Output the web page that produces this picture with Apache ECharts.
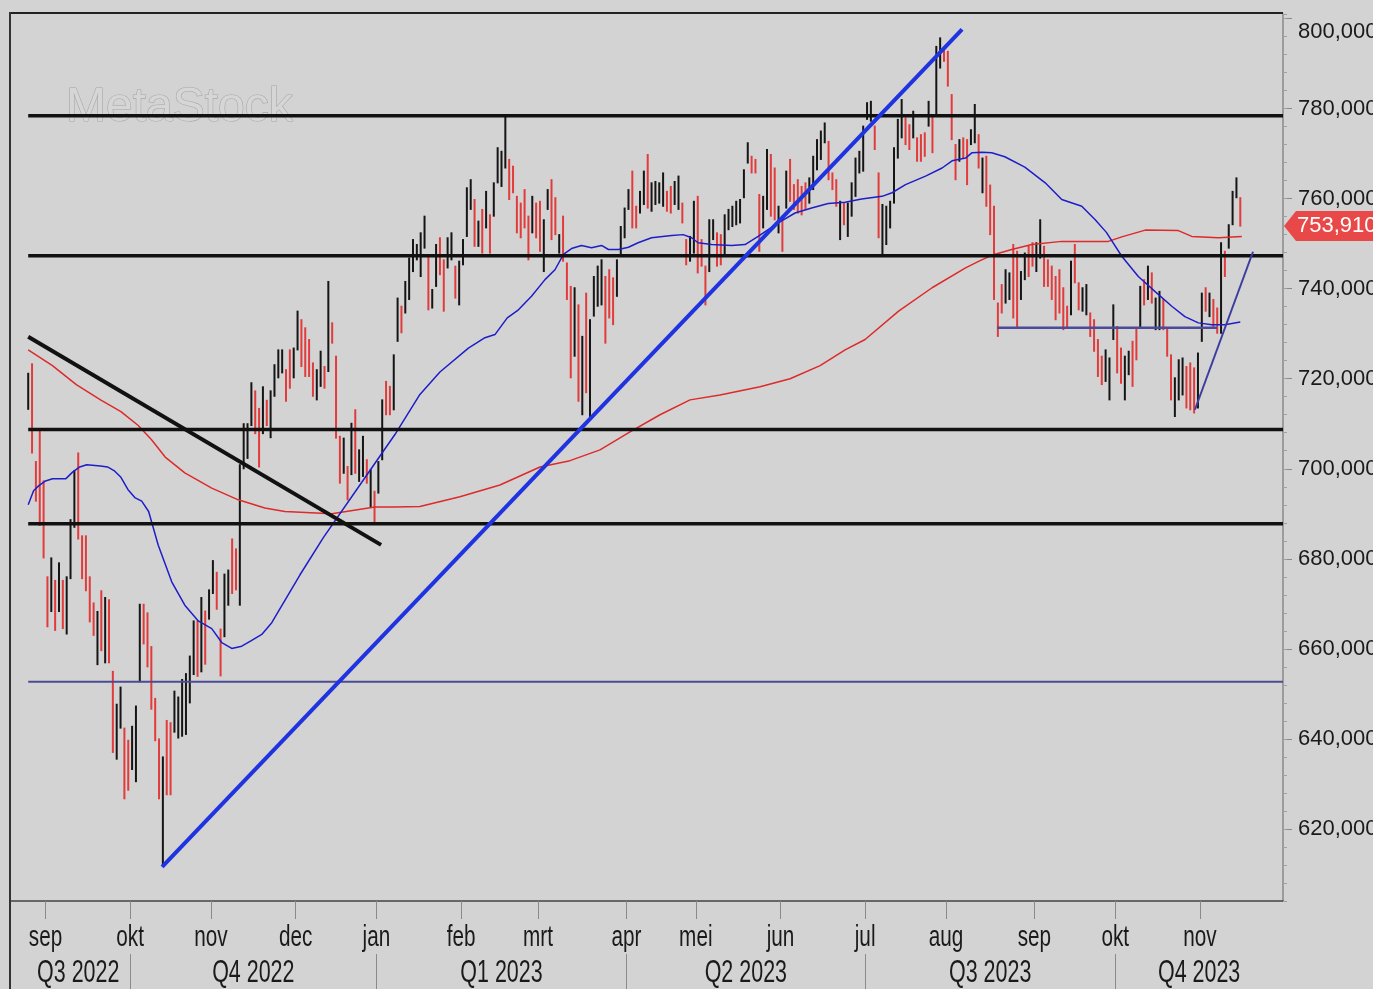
<!DOCTYPE html>
<html><head><meta charset="utf-8">
<script src="https://cdn.jsdelivr.net/npm/echarts@6/dist/echarts.min.js"></script>
<style>html,body{margin:0;padding:0;background:#d3d3d3;overflow:hidden}#c{width:1373px;height:989px}</style>
</head><body><div id="c"></div>
<script>
// ---------- data ----------
const startDate = '2022-08-25';
const barCount = 316;
const holidays = ['2022-12-26', '2023-04-07', '2023-04-10', '2023-05-01'];
const monthNames = ['jan', 'feb', 'mrt', 'apr', 'mei', 'jun', 'jul', 'aug', 'sep', 'okt', 'nov', 'dec'];
const quarterLabels = ['Q3 2022', 'Q4 2022', 'Q1 2023', 'Q2 2023', 'Q3 2023', 'Q4 2023'];
const yTickValues = [620, 640, 660, 680, 700, 720, 740, 760, 780, 800];

const lows = [
713.2,703.5,692.8,687.4,680.2,664.9,668.3,664.1,668.3,664.5,
663.3,675.6,687.0,684.4,675.6,672.9,666.0,663.0,656.5,659.6,
656.9,656.9,637.0,635.5,642.4,626.7,628.6,633.2,630.5,652.7,
661.1,656.0,646.6,639.6,626.7,611.8,627.6,627.6,641.5,640.2,
640.6,641.0,648.0,654.3,653.9,654.9,656.6,666.6,672.3,668.8,
654.0,662.7,669.7,672.3,673.1,669.7,700.0,702.3,709.6,707.8,
700.4,707.8,709.6,706.9,716.1,720.2,721.3,715.0,717.9,720.2,
726.4,722.7,720.5,720.5,716.1,715.3,718.3,717.9,721.6,727.9,
706.8,696.8,699.0,693.1,698.7,699.0,697.2,698.3,696.8,691.6,
688.2,694.6,702.0,712.0,712.0,713.1,728.3,730.2,734.6,737.6,
743.8,746.4,742.7,749.0,735.3,735.7,740.5,743.1,735.0,744.6,
746.4,737.9,736.4,745.3,751.6,757.6,749.4,749.4,747.9,753.5,
747.9,756.1,763.5,762.7,766.8,759.8,761.3,752.4,751.3,753.5,
746.4,752.4,751.3,748.3,743.8,757.6,750.9,752.0,747.9,746.1,
737.6,720.2,725.0,715.0,712.0,716.9,711.6,733.9,736.1,736.4,
727.9,733.5,732.0,738.3,747.6,751.3,757.6,753.5,753.5,756.8,
758.7,757.9,757.2,758.7,759.0,758.3,757.2,756.8,758.7,757.6,
754.6,745.3,746.1,747.9,743.5,745.0,736.4,743.8,750.9,745.0,
745.3,747.2,753.1,753.8,754.2,754.6,760.2,767.9,765.7,765.7,
748.3,753.5,757.6,756.1,755.3,752.4,748.3,757.9,759.4,757.6,
756.8,756.4,757.6,759.0,762.0,766.4,768.7,772.4,764.2,762.0,
758.3,750.9,754.2,751.6,756.1,760.5,765.7,766.1,777.6,777.2,
770.9,751.3,747.6,749.8,753.5,759.0,769.0,773.5,772.0,770.9,
773.5,768.3,768.3,769.4,776.1,770.2,778.7,789.0,790.5,785.0,
773.1,764.2,768.3,769.0,763.1,772.0,772.4,766.8,761.3,758.3,
752.0,737.6,729.4,734.6,736.8,737.6,733.5,731.6,737.6,742.0,
742.7,745.0,743.8,746.8,740.5,740.5,737.6,733.1,734.6,730.9,
731.3,734.2,741.3,735.3,735.0,734.2,729.4,726.1,720.5,718.7,
719.4,715.3,728.7,721.3,719.0,715.3,720.9,718.3,724.2,731.3,
736.4,737.6,736.8,730.9,730.9,730.9,725.0,715.3,711.6,715.3,
716.4,713.5,713.1,712.4,713.5,728.3,735.0,733.8,731.6,730.1,
730.1,742.7,749.0,754.2,760.2,753.9];

const highs = [
721.2,723.3,701.6,708.8,697.3,676.0,680.2,675.2,679.1,675.2,
676.0,688.7,699.6,703.5,685.1,685.1,676.0,670.2,668.3,672.9,
671.4,670.9,655.0,647.7,651.5,642.4,639.7,642.8,647.3,669.9,
669.9,668.0,660.5,649.0,640.0,636.0,644.1,643.6,650.6,649.3,
653.2,654.5,658.4,666.2,666.2,671.4,668.4,673.1,679.6,677.0,
664.4,676.6,677.5,684.4,682.2,700.9,710.0,710.0,719.1,717.3,
713.4,718.2,715.2,717.3,723.1,726.4,726.4,722.0,726.4,726.8,
735.0,733.1,731.3,728.7,723.5,722.0,726.1,722.7,741.6,732.4,
725.0,707.2,706.8,700.5,710.1,713.1,704.2,707.2,702.0,699.8,
695.0,701.6,715.3,719.4,718.3,725.3,737.9,736.1,741.6,746.8,
750.9,749.8,752.4,756.1,747.2,739.8,749.8,751.3,746.4,751.3,
752.4,745.0,746.1,750.9,762.4,764.2,759.8,755.0,757.6,761.6,
756.4,763.5,771.3,770.5,778.3,768.7,767.2,760.5,759.0,762.0,
756.1,760.5,759.0,759.4,755.3,762.0,764.2,760.2,752.0,756.1,
745.7,740.5,740.2,736.4,729.4,739.0,733.1,742.7,745.0,746.4,
742.7,744.2,742.4,746.4,753.8,757.9,762.0,766.1,758.3,761.6,
766.1,769.8,763.5,763.8,763.5,765.7,761.6,762.7,763.8,765.0,
759.0,750.9,751.6,759.4,760.5,750.9,745.0,755.3,755.3,752.4,
752.0,756.4,757.6,758.3,759.4,759.8,766.4,772.4,769.4,768.7,
760.9,760.5,770.9,769.8,766.8,758.3,756.1,766.1,768.7,763.1,
764.2,762.7,763.5,764.6,769.4,773.1,775.0,776.8,772.7,765.7,
764.2,759.4,759.0,759.0,763.5,769.0,770.5,776.1,781.3,781.6,
776.1,765.7,758.7,758.3,759.4,771.3,777.6,782.0,777.9,776.4,
779.4,773.5,774.2,774.6,781.6,778.3,793.8,795.7,793.5,792.7,
783.1,772.0,773.1,773.5,773.1,775.3,780.9,774.2,769.0,769.4,
763.0,758.3,736.8,740.9,744.2,743.5,749.8,748.3,743.8,747.9,
749.4,750.2,750.2,755.3,749.4,746.4,745.0,742.7,744.2,740.2,
736.1,746.1,749.8,741.3,740.2,740.9,734.6,733.1,728.7,725.0,
726.4,724.6,736.4,731.6,726.8,725.0,726.1,728.3,731.3,740.5,
742.0,745.0,743.5,737.9,739.4,737.6,731.3,725.3,720.2,724.2,
724.6,722.7,723.5,722.4,725.7,739.0,740.2,739.0,737.6,735.7,
750.2,748.3,754.2,761.6,764.6,760.2];

// 1 = black (up) bar, 0 = red (down) bar
const upDay = [
1,0,0,0,0,0,1,0,1,0, 1,1,1,0,0,0,0,0,1,0, 1,0,0,1,1,0,0,1,1,1,
0,0,0,0,0,1,0,0,1,1, 1,1,1,1,0,1,0,1,1,0, 0,1,1,0,0,1,1,1,1,0,
0,1,0,1,1,1,1,0,0,1, 1,0,0,0,0,1,1,0,1,0, 0,0,1,0,1,0,1,1,0,1,
0,1,1,0,0,1,1,0,1,1, 1,1,1,1,0,1,1,0,0,1, 1,0,1,1,1,1,0,1,0,1,
0,1,1,1,1,0,0,0,0,0, 0,1,0,0,1,1,0,0,1,0, 0,0,1,0,1,0,1,1,1,1,
0,0,0,1,1,1,1,0,0,1, 1,0,1,1,1,1,0,0,1,1, 0,0,1,1,0,0,0,1,1,0,
0,1,1,1,1,1,1,1,0,0, 0,1,1,0,0,1,0,1,0,0, 0,0,0,1,1,1,1,1,0,0,
0,1,0,1,1,1,1,1,1,1, 0,0,1,1,1,1,1,1,0,0, 1,0,0,0,1,0,1,1,0,0,
0,0,1,0,0,1,1,0,1,0, 0,0,0,0,1,1,0,0,1,1, 0,0,1,1,0,0,0,0,0,0,
0,1,0,0,1,1,0,0,0,0, 1,1,1,0,0,1,1,0,0,1, 0,1,0,1,1,0,0,0,1,1,
1,0,0,0,1,1,0,1,0,0, 1,0,1,1,1,0];

// moving averages (bar index, value)
const blueMaIdx = [0,1.4,2.7,4.5,6.3,9.8,11.6,13.4,15.2,18.8,20.6,22.3,24.1,25.9,27.7,29.5,31.3,33.8,37.3,40.7,44.2,47.7,50.3,52.9,55.5,58.1,60.7,63.3,64.1,70.6,76.7,86.2,95.3,101.8,107,114.4,118.7,121.3,124.5,127.4,130.8,134.3,136.9,139.1,141.2,143.8,146.4,149,150.8,153.4,156,158.5,162,167.2,170.2,172.4,174.1,177.6,182.8,186.3,189.7,194.9,199.3,203.6,207.9,212.3,216.6,221.9,224.5,228,233.2,237.5,240.1,243.6,245.3,247.9,250.4,253.8,259,264.3,268.6,273.8,277.3,280.2,284.2,288.5,292.8,297.2,300.6,304.1,307.6,311,315];
const blueMaVal = [692.0,695.1,696.2,697.3,697.8,697.8,699.3,700.4,700.9,700.6,700.4,699.6,698.1,695.4,693.6,692.8,690.5,683.0,674.9,669.7,666.2,664.5,661.4,660.1,660.6,661.9,663.2,665.8,667.0,676.4,684.7,696.4,707.6,716.5,721.5,726.8,729.1,729.8,733.5,735.3,738.3,742.0,744.2,747.6,748.9,749.6,749.1,749.6,748.7,748.7,749.2,750.2,751.3,751.8,752.0,751.3,750.2,749.8,749.6,749.8,751.6,754.6,756.8,757.9,758.9,759.2,759.9,760.5,761.3,763.1,765.0,766.8,768.4,769.0,770.2,770.3,770.2,769.3,767.0,763.5,759.8,758.3,755.3,752.5,747.2,742.7,739.4,736.1,733.8,732.4,732.0,732.0,732.6];
const redMaIdx = [0,6.3,12.5,18.8,24.1,28.6,32,35.6,40.7,47.7,54.6,61.5,66.7,78.9,90.1,95.3,101.8,112.2,122.6,133,140.8,148.6,156.4,164.2,172,179.8,190.2,198,205.8,212.3,217.5,226.2,234.9,243.6,247.1,250.4,255.6,260.8,268.6,280.7,284.2,290.3,298.9,302.4,309.3,315.4];
const redMaVal = [726.4,722.9,718.7,715.3,712.7,709.6,706.5,702.6,699.1,695.7,693.1,691.3,690.5,690.0,691.5,691.5,691.6,693.8,696.4,700.4,701.8,704.2,708.2,712.0,715.3,716.4,718.2,720.0,722.9,726.4,728.7,735.0,740.2,744.6,746.1,747.4,748.7,749.8,750.5,750.5,751.5,753.0,752.9,751.6,751.3,751.6];

// drawn lines (bar index, price)
const blackLevels = [778.4, 747.3, 708.7, 687.8];
const navyLevel = 652.7;
const supportIdx = [251.8, 309], supportVal = [731.3, 731.3];
const downTrendIdx = [0, 91.7], downTrendVal = [729.3, 683.1];
const upTrendIdx = [34.8, 242.7], upTrendVal = [611.6, 797.6];
const shortTrendIdx = [303.2, 318.3], shortTrendVal = [713.1, 748.2];
const lastPrice = 753.91;

// ---------- build ----------
const dates = [];
{
  const d = new Date(startDate + 'T00:00:00Z');
  while (dates.length < barCount) {
    const wd = d.getUTCDay(), s = d.toISOString().slice(0, 10);
    if (wd !== 0 && wd !== 6 && holidays.indexOf(s) < 0) dates.push(s);
    d.setUTCDate(d.getUTCDate() + 1);
  }
}
const xMin = -4.73, xMax = 326.1;
const monthTicks = [], monthText = [], quarterTicks = [];
for (let i = 1; i < dates.length; i++) {
  const m0 = +dates[i - 1].slice(5, 7), m1 = +dates[i].slice(5, 7);
  if (m0 !== m1) {
    const v = i - 0.5;
    monthTicks.push(v);
    monthText.push(monthNames[m1 - 1]);
    if ((m1 - 1) % 3 === 0) quarterTicks.push(v);
  }
}
const qEdges = [-0.5].concat(quarterTicks, [xMax]);
const quarterCenters = [];
for (let q = 0; q < qEdges.length - 1; q++) quarterCenters.push((qEdges[q] + qEdges[q + 1]) / 2);

const barData = lows.map((l, i) => [i, l, highs[i], upDay[i]]);
const pair = (xs, ys) => xs.map((x, i) => [x, ys[i]]);

const SANS = "'Liberation Sans',Arial,sans-serif";
const RED = '#e23b3b', BLACK = '#151515';
const yMax = 801;

const series = [
  {
    type: 'custom', name: 'koers', z: 2, clip: true,
    data: barData, encode: { x: 0, y: [1, 2] },
    renderItem: function (params, api) {
      const x = api.value(0);
      const lo = api.coord([x, api.value(1)]);
      const hi = api.coord([x, api.value(2)]);
      return { type: 'line', shape: { x1: lo[0], y1: lo[1] + 0.5, x2: hi[0], y2: hi[1] - 0.5 },
        style: { stroke: api.value(3) ? BLACK : RED, lineWidth: 2 } };
    }
  },
  { type: 'line', name: 'MA rood', z: 3, showSymbol: false, data: pair(redMaIdx, redMaVal),
    lineStyle: { color: '#dd2a2a', width: 1.5 }, silent: true },
  { type: 'line', name: 'MA blauw', z: 3, showSymbol: false, data: pair(blueMaIdx, blueMaVal),
    lineStyle: { color: '#1e1ec8', width: 1.5 }, silent: true }
];
blackLevels.forEach(v => series.push({ type: 'line', z: 4, showSymbol: false, silent: true,
  data: [[0, v], [xMax, v]], lineStyle: { color: '#111', width: 3.5 } }));
series.push({ type: 'line', z: 4, showSymbol: false, silent: true,
  data: [[0, navyLevel], [xMax, navyLevel]], lineStyle: { color: '#4b4b96', width: 2 } });
series.push({ type: 'line', z: 4, showSymbol: false, silent: true,
  data: pair(supportIdx, supportVal), lineStyle: { color: '#4b4b9a', width: 2.5 } });
series.push({ type: 'line', z: 5, showSymbol: false, silent: true,
  data: pair(downTrendIdx, downTrendVal), lineStyle: { color: '#111', width: 4 } });
series.push({ type: 'line', z: 5, showSymbol: false, silent: true,
  data: pair(upTrendIdx, upTrendVal), lineStyle: { color: '#1f33e0', width: 4 } });
series.push({ type: 'line', z: 5, showSymbol: false, silent: true,
  data: pair(shortTrendIdx, shortTrendVal), lineStyle: { color: '#3d3da0', width: 2 } });

const chart = echarts.init(document.getElementById('c'), null, { renderer: 'canvas' });
chart.setOption({
  animation: false,
  backgroundColor: '#d3d3d3',
  grid: { left: 10, top: 14, width: 1273, height: 887, containLabel: false, outerBoundsMode: 'none' },
  xAxis: [
    { type: 'value', min: xMin, max: xMax, position: 'bottom',
      axisLine: { show: true, onZero: false, lineStyle: { color: '#444', width: 1.5 } },
      splitLine: { show: false },
      axisTick: { show: true, customValues: monthTicks, length: 18, lineStyle: { color: '#8a8a8a' } },
      axisLabel: { show: false } },
    { type: 'value', min: xMin, max: xMax, position: 'bottom', offset: 53,
      axisLine: { show: false, onZero: false }, splitLine: { show: false },
      axisTick: { show: true, customValues: quarterTicks, length: 36, lineStyle: { color: '#8a8a8a' } },
      axisLabel: { show: false } }
  ],
  yAxis: [
    { type: 'value', min: 604, max: yMax, position: 'right',
      axisLine: { show: true, onZero: false, lineStyle: { color: '#8a8a8a', width: 1.5 } },
      splitLine: { show: false },
      axisTick: { show: true, customValues: yTickValues, length: 9, lineStyle: { color: '#8a8a8a' } },
      axisLabel: { customValues: yTickValues, margin: 15, fontSize: 22, color: '#1a1a1a', fontFamily: SANS,
        formatter: v => {
          const s = v.toFixed(3).replace('.', ',');
          return v > yMax - 5 ? '{top|' + s + '}' : s;
        },
        rich: { top: { fontSize: 22, color: '#1a1a1a', fontFamily: SANS, padding: [26, 0, 0, 0] } } } },
    { type: 'value', min: 604, max: yMax, interval: 4, position: 'right',
      axisLine: { show: false, onZero: false }, splitLine: { show: false }, axisLabel: { show: false },
      axisTick: { show: true, length: 4, lineStyle: { color: '#a0a0a0' } } }
  ],
  series: series
});

// overlay: frame, condensed time labels, watermark and last-price tag
const py = chart.convertToPixel({ yAxisIndex: 0 }, lastPrice);
const gLeft = 10, gRight = 1283, gTop = 14;
const graphics = [
  { type: 'line', z: 10, shape: { x1: gLeft, y1: gTop - 1, x2: gRight, y2: gTop - 1 }, style: { stroke: '#222', lineWidth: 2 } },
  { type: 'line', z: 10, shape: { x1: gLeft, y1: gTop - 2, x2: gLeft, y2: 989 }, style: { stroke: '#333', lineWidth: 2 } },
  { type: 'text', z: 1, x: 66, y: 108, style: { text: 'MetaStock', fontSize: 48, fontFamily: SANS,
    fill: '#d6d6d6', stroke: '#a8a8a8', lineWidth: 1.2, verticalAlign: 'middle' } },
  { type: 'group', z: 20, children: [
    { type: 'polygon', shape: { points: [[gRight + 1, py], [gRight + 13, py - 15], [1373, py - 15], [1373, py + 15], [gRight + 13, py + 15]] },
      style: { fill: '#e84848' } },
    { type: 'text', x: gRight + 14, y: py, style: { text: lastPrice.toFixed(3).replace('.', ','), fill: '#fff', fontSize: 22,
      fontFamily: SANS, verticalAlign: 'middle', align: 'left' } }
  ] }
];
monthTicks.forEach((v, k) => {
  const px = chart.convertToPixel({ xAxisIndex: 0 }, v);
  graphics.push({ type: 'text', z: 10, x: px, y: 938, scaleX: 0.74, scaleY: 1.05,
    style: { text: monthText[k], fontSize: 28, fontFamily: SANS, fill: '#1a1a1a', align: 'center', verticalAlign: 'middle' } });
});
quarterCenters.forEach((v, k) => {
  const px = chart.convertToPixel({ xAxisIndex: 0 }, v);
  graphics.push({ type: 'text', z: 10, x: px, y: 973, scaleX: 0.74, scaleY: 1.1,
    style: { text: quarterLabels[k], fontSize: 29, fontFamily: SANS, fill: '#1a1a1a', align: 'center', verticalAlign: 'middle' } });
});
chart.setOption({ graphic: graphics });
</script>
</body></html>
